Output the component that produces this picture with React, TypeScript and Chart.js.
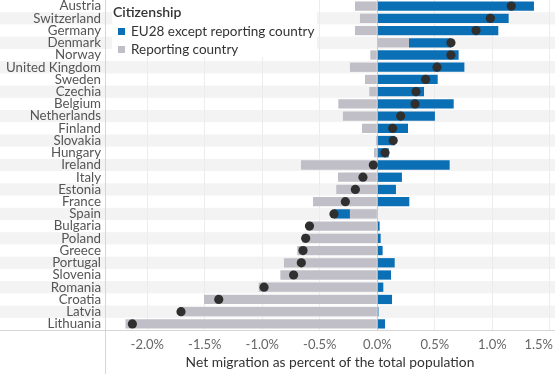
import React, { useEffect, useRef } from "react";
import { Chart, registerables } from "chart.js";

Chart.register(...registerables);

const countries = [
  "Austria", "Switzerland", "Germany", "Denmark", "Norway", "United Kingdom",
  "Sweden", "Czechia", "Belgium", "Netherlands", "Finland", "Slovakia",
  "Hungary", "Ireland", "Italy", "Estonia", "France", "Spain", "Bulgaria",
  "Poland", "Greece", "Portugal", "Slovenia", "Romania", "Croatia", "Latvia",
  "Lithuania",
];

// EU28 citizens except reporting country (% of total population)
const eu28Values = [
  1.362, 1.142, 1.052, 0.365, 0.707, 0.757, 0.525, 0.406, 0.664, 0.501, 0.267,
  0.154, 0.099, 0.629, 0.214, 0.162, 0.278, -0.139, 0.02, 0.029, 0.046, 0.151,
  0.119, 0.052, 0.128, 0.01, 0.067,
];

// Citizens of the reporting country (% of total population)
const reportingValues = [
  -0.194, -0.151, -0.194, 0.275, -0.061, -0.238, -0.107, -0.07, -0.339,
  -0.299, -0.133, -0.012, -0.029, -0.664, -0.342, -0.357, -0.559, -0.238,
  -0.61, -0.652, -0.696, -0.812, -0.843, -1.031, -1.507, -1.716, -2.19,
];

// Net total migration (dots)
const netValues = [
  1.165, 0.983, 0.858, 0.64, 0.64, 0.519, 0.42, 0.336, 0.328, 0.203, 0.133,
  0.138, 0.067, -0.035, -0.125, -0.191, -0.278, -0.377, -0.59, -0.623, -0.646,
  -0.661, -0.728, -0.985, -1.379, -1.707, -2.13,
];

const xTickValues = [-2, -1.5, -1, -0.5, 0, 0.5, 1, 1.5];
const legendTitle = "Citizenship";
const legendLabels = ["EU28 except reporting country", "Reporting country"];
const axisTitle = "Net migration as percent of the total population";

const BLUE = "#0b6fb5";
const GRAY = "#c0bec6";
const DOT = "#2f2f2f";
const FONT = "Lato, 'Open Sans', sans-serif";

const decorPlugin = {
  id: "decor",
  beforeDraw(chart: any) {
    const { ctx, chartArea } = chart;
    const y = chart.scales.y;
    const step = y.getPixelForValue(1) - y.getPixelForValue(0);
    ctx.save();
    ctx.fillStyle = "#f3f3f3";
    for (let i = 0; i < countries.length; i++) {
      if (i % 2 === 1) {
        const c = y.getPixelForValue(i);
        ctx.fillRect(0, c - step / 2, chartArea.right, step);
      }
    }
    ctx.restore();
  },
  afterDraw(chart: any) {
    const { ctx, chartArea, width, height } = chart;
    const x = chart.scales.x;
    ctx.save();
    ctx.strokeStyle = "#d6d6d6";
    ctx.lineWidth = 1;
    ctx.beginPath();
    ctx.moveTo(0, Math.round(chartArea.bottom) + 0.5);
    ctx.lineTo(width, Math.round(chartArea.bottom) + 0.5);
    ctx.moveTo(Math.round(chartArea.left) + 0.5, 0);
    ctx.lineTo(Math.round(chartArea.left) + 0.5, height);
    ctx.stroke();

    ctx.font = `13px ${FONT}`;
    ctx.fillStyle = "#666";
    ctx.textBaseline = "middle";
    ctx.textAlign = "center";
    for (const v of xTickValues) {
      const label = (v < 0 ? "-" : "") + Math.abs(v).toFixed(1) + "%";
      const w = ctx.measureText(label).width;
      let px = x.getPixelForValue(v);
      if (px + w / 2 > width - 2) px = width - 2 - w / 2;
      ctx.fillText(label, px, chartArea.bottom + 15);
    }
    ctx.font = `13.8px ${FONT}`;
    ctx.fillStyle = "#333";
    ctx.fillText(axisTitle, (chartArea.left + chartArea.right) / 2, chartArea.bottom + 33);
    ctx.restore();
  },
};

export default function App() {
  const canvasRef = useRef<HTMLCanvasElement | null>(null);

  useEffect(() => {
    if (!canvasRef.current) return;
    const chart = new Chart(canvasRef.current, {
      type: "bar",
      data: {
        labels: countries,
        datasets: [
          {
            type: "line",
            label: "Net",
            data: netValues,
            showLine: false,
            pointRadius: 4.6,
            pointHoverRadius: 4.6,
            pointBackgroundColor: DOT,
            pointBorderColor: DOT,
            pointBorderWidth: 0,
            stack: "dots",
          } as any,
          {
            label: legendLabels[1],
            data: reportingValues,
            backgroundColor: GRAY,
            stack: "bars",
            categoryPercentage: 1,
            barPercentage: 0.76,
          },
          {
            label: legendLabels[0],
            data: eu28Values,
            backgroundColor: BLUE,
            stack: "bars",
            categoryPercentage: 1,
            barPercentage: 0.76,
          },
        ],
      },
      options: {
        indexAxis: "y",
        animation: false,
        responsive: true,
        maintainAspectRatio: false,
        layout: { padding: 0, autoPadding: false },
        plugins: {
          legend: { display: false },
          tooltip: { enabled: false },
        },
        scales: {
          x: {
            type: "linear",
            stacked: true,
            min: -2.368,
            max: 1.545,
            ticks: { display: false, stepSize: 0.5, includeBounds: false },
            grid: {
              drawTicks: false,
              color: (c: any) => (c.tick && c.tick.value === 0 ? "#c9c9c9" : "#ececec"),
            },
            border: { display: false },
            afterFit: (s: any) => {
              s.height = 44;
              s.paddingLeft = 0;
              s.paddingRight = 0;
            },
          },
          y: {
            stacked: true,
            grid: { display: false, drawTicks: false },
            border: { display: false },
            ticks: {
              padding: 4,
              color: "#555",
              font: { family: FONT, size: 13.3 },
              autoSkip: false,
            },
            afterFit: (s: any) => {
              s.width = 105;
              s.paddingTop = 0;
              s.paddingBottom = 0;
            },
          },
        },
      },
      plugins: [decorPlugin],
    });
    return () => chart.destroy();
  }, []);

  return (
    <div style={{ position: "absolute", left: 0, top: 0, width: 555, height: 374 }}>
      <canvas ref={canvasRef} />
      <div
        style={{
          position: "absolute",
          left: 112,
          top: 0,
          width: 205,
          height: 57,
          background: "#fff",
          fontFamily: FONT,
          color: "#333",
        }}
      >
        <div style={{ position: "absolute", left: 1, top: 3, fontSize: 14, fontWeight: 600, lineHeight: "18px" }}>
          {legendTitle}
        </div>
        {legendLabels.map((t, i) => (
          <div key={t} style={{ position: "absolute", left: 0, top: 22 + i * 18, height: 18, display: "flex", alignItems: "center" }}>
            <span style={{ display: "inline-block", width: 7, height: 7, marginLeft: 6, marginRight: 6, background: i === 0 ? BLUE : GRAY }} />
            <span style={{ fontSize: 13.5, whiteSpace: "nowrap" }}>{t}</span>
          </div>
        ))}
      </div>
    </div>
  );
}
